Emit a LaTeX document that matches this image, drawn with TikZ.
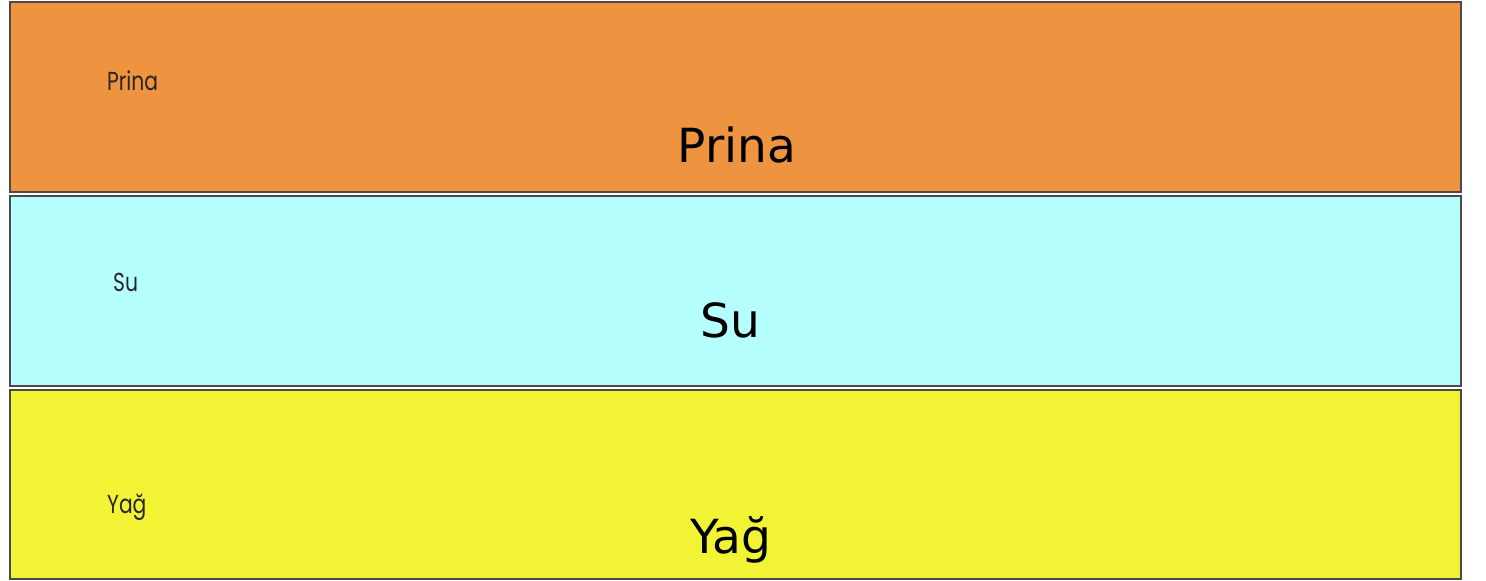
\documentclass[tikz,border=0pt]{standalone}
\usepackage{fontspec}
\newfontfamily\bigfont{DejaVu Sans}
\newfontfamily\smallfont{Poppins}
\definecolor{orng}{HTML}{EE933F}
\definecolor{cyn}{HTML}{B5FFFF}
\definecolor{ylw}{HTML}{F3F336}
\definecolor{edge}{HTML}{4A4A4A}
\begin{document}
\begin{tikzpicture}[x=1pt,y=-1pt,
  band/.style={draw=edge,line width=2pt},
  bigtxt/.style={anchor=base,inner sep=0pt,font=\bigfont\fontsize{47}{51}\selectfont},
  smalltxt/.style={anchor=base west,inner sep=0pt,text=black!85,font=\smallfont\fontsize{26}{30}\selectfont,xscale=0.78}]
\useasboundingbox (0,0) rectangle (1486,581);
\path[band,fill=orng] (10,2) rectangle (1461,192);
\path[band,fill=cyn] (10,196) rectangle (1461,386);
\path[band,fill=ylw] (10,390) rectangle (1461,579);
\node[bigtxt] (t1) at (737,162) {Prina};
\node[bigtxt] (t2) at (730,337) {Su};
\node[bigtxt] (t3) at (731,553) {Yağ};
\node[smalltxt] (s1) at (107,90) {Prina};
\node[smalltxt] (s2) at (113,291) {Su};
\node[smalltxt] (s3) at (107,513) {Yağ};
\end{tikzpicture}
\end{document}
